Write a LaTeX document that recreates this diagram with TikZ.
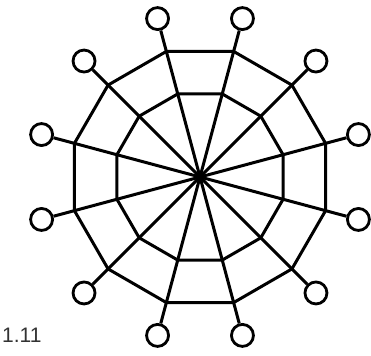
\documentclass[tikz,border=0pt]{standalone}
\usepackage{fontspec}
\setsansfont{Liberation Sans}
\usepackage{tikz}

\begin{document}
\begin{tikzpicture}[
    x=1pt, y=1pt,
    web/.style={line width=3pt, line join=round},
    peg/.style={circle, draw, line width=2.8pt, minimum size=22pt, inner sep=0pt},
    hub/.style={circle, fill, minimum size=10pt, inner sep=0pt},
    caption/.style={font=\sffamily\fontsize{21}{21}\selectfont, anchor=base west, inner sep=0pt, text=black!80},
  ]
  \useasboundingbox (-200,-178) rectangle (171,177);

  % Nodes
  \node[hub] (hub) at (0,0) {};
  \node[peg] (p1)  at (15:164)  {};
  \node[peg] (p2)  at (45:164)  {};
  \node[peg] (p3)  at (75:164)  {};
  \node[peg] (p4)  at (105:164) {};
  \node[peg] (p5)  at (135:164) {};
  \node[peg] (p6)  at (165:164) {};
  \node[peg] (p7)  at (195:164) {};
  \node[peg] (p8)  at (225:164) {};
  \node[peg] (p9)  at (255:164) {};
  \node[peg] (p10) at (285:164) {};
  \node[peg] (p11) at (315:164) {};
  \node[peg] (p12) at (345:164) {};

  % Caption
  \node[caption] (fig) at (-198,-165) {1.11};

  % Rings
  \draw[web] (15:130) \foreach \a in {45,75,...,345} { -- (\a:130) } -- cycle;
  \draw[web] (15:86) \foreach \a in {45,75,...,345} { -- (\a:86) } -- cycle;

  % Spokes
  \foreach \k in {1,...,12}
    \draw[web] (hub.center) -- (p\k);

\end{tikzpicture}
\end{document}
